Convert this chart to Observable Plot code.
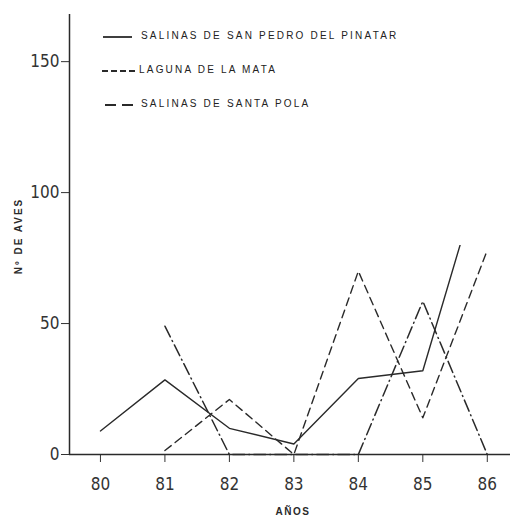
<!DOCTYPE html>
<html>
<head>
<meta charset="utf-8">
<script src="https://cdn.jsdelivr.net/npm/d3@7"></script>
<script src="https://cdn.jsdelivr.net/npm/@observablehq/plot@0.6"></script>
<style>
  body { margin: 0; background: #fff; }
  #wrap { position: relative; width: 510px; height: 519px; overflow: hidden; }
  #legend { position: absolute; left: 102px; top: 28px; font-family: "Liberation Sans", "DejaVu Sans", sans-serif; font-size: 10px; letter-spacing: 2.2px; color: #222; }
  .item { position: absolute; left: 0; white-space: nowrap; height: 16px; line-height: 16px; }
  .item svg { position: absolute; left: 0; top: 0; }
  .item span { position: absolute; top: 0; }
</style>
</head>
<body>
<div id="wrap"></div>
<script>
// ---- data ----
const years = [80, 81, 82, 83, 84, 85, 86];
const sanPedro = [9, 28.5, 10, 4, 29, 32, 115];   // last value runs off the visible part
const laMata   = [null, 1.5, 21, 0, 70, 14, 78];
const santaPola = [null, 49, 0, 0, 0, 58.5, 0];
const seriesNames = ["SALINAS DE SAN PEDRO DEL PINATAR", "LAGUNA DE LA MATA", "SALINAS DE SANTA POLA"];
const yTicks = [0, 50, 100, 150];
const xTicks = [80, 81, 82, 83, 84, 85, 86];
const xDomain = [79.52, 86.36];
const yDomain = [0, 168];
const visibleTop = 80;

const rows = (vals, name) => years.map((y, i) => ({year: y, value: vals[i], name})).filter(d => d.value != null);
const dSP = rows(sanPedro, seriesNames[0]);
const dLM = rows(laMata, seriesNames[1]);
const dPO = rows(santaPola, seriesNames[2]);

const ink = "#2a2a2a";
const numFont = '"Liberation Sans Narrow", "DejaVu Sans Condensed", sans-serif';

const plot = Plot.plot({
  width: 510,
  height: 519,
  marginLeft: 69,
  marginRight: 0,
  marginTop: 14,
  marginBottom: 65,
  style: {fontFamily: numFont, fontSize: "17px", color: "#333", background: "#fff"},
  x: {domain: xDomain, ticks: xTicks, tickSize: 8, tickPadding: 15, tickFormat: d => String(d), label: null},
  y: {domain: yDomain, ticks: yTicks, tickSize: 8, tickPadding: 2, tickFormat: d => String(d), label: null},
  marks: [
    Plot.ruleY([yDomain[0]], {stroke: ink, strokeWidth: 1.3}),
    Plot.ruleX([xDomain[0]], {stroke: ink, strokeWidth: 1.5}),
    Plot.line(dSP, {x: "year", y: "value", stroke: ink, strokeWidth: 1.4}),
    Plot.line(dLM, {x: "year", y: "value", stroke: ink, strokeWidth: 1.4, strokeDasharray: "8,5"}),
    Plot.line(dPO, {x: "year", y: "value", stroke: ink, strokeWidth: 1.5, strokeDasharray: "12,4,1,4"})
  ]
});

// clip the lines where the original figure is cut off
const yS = plot.scale("y");
const yClip = yS.apply(visibleTop);
const svg = d3.select(plot.tagName === "svg" ? plot : plot.querySelector("svg"));
const defs = svg.insert("defs", ":first-child");
defs.append("clipPath").attr("id", "cutTop")
  .append("rect").attr("x", 0).attr("y", yClip).attr("width", 510).attr("height", 519 - yClip);
svg.selectAll('g[aria-label="line"]').attr("clip-path", "url(#cutTop)");

// axis labels
svg.append("text").text("AÑOS")
  .attr("x", 293).attr("y", 515).attr("text-anchor", "middle")
  .style("font-family", '"Liberation Sans", sans-serif').style("font-size", "10px")
  .style("font-weight", "bold").style("letter-spacing", "1.5px").attr("fill", ink);
svg.append("text").text("Nº DE AVES")
  .attr("transform", "translate(22,236) rotate(-90)").attr("text-anchor", "middle")
  .style("font-family", '"Liberation Sans", sans-serif').style("font-size", "10px")
  .style("font-weight", "bold").style("letter-spacing", "2px").attr("fill", ink);

const wrap = document.getElementById("wrap");
wrap.appendChild(plot);

// legend
const legend = document.createElement("div");
legend.id = "legend";
const dashes = [null, "6,3", "11,6"];
const sampleX = [1, 0, 3];
const sampleW = [29, 36, 28];
const tops = [0, 34, 68];
const textX = [39, 37, 39];
seriesNames.forEach((n, i) => {
  const it = document.createElement("div");
  it.className = "item";
  it.style.top = tops[i] + "px";
  it.innerHTML = `<svg width="${sampleX[i] + sampleW[i]}" height="16"><line x1="${sampleX[i]}" x2="${sampleX[i] + sampleW[i]}" y1="9" y2="9" stroke="${ink}" stroke-width="1.8" ${dashes[i] ? `stroke-dasharray="${dashes[i]}"` : ""}/></svg><span style="left:${textX[i]}px">${n}</span>`;
  legend.appendChild(it);
});
wrap.appendChild(legend);
</script>
</body>
</html>
